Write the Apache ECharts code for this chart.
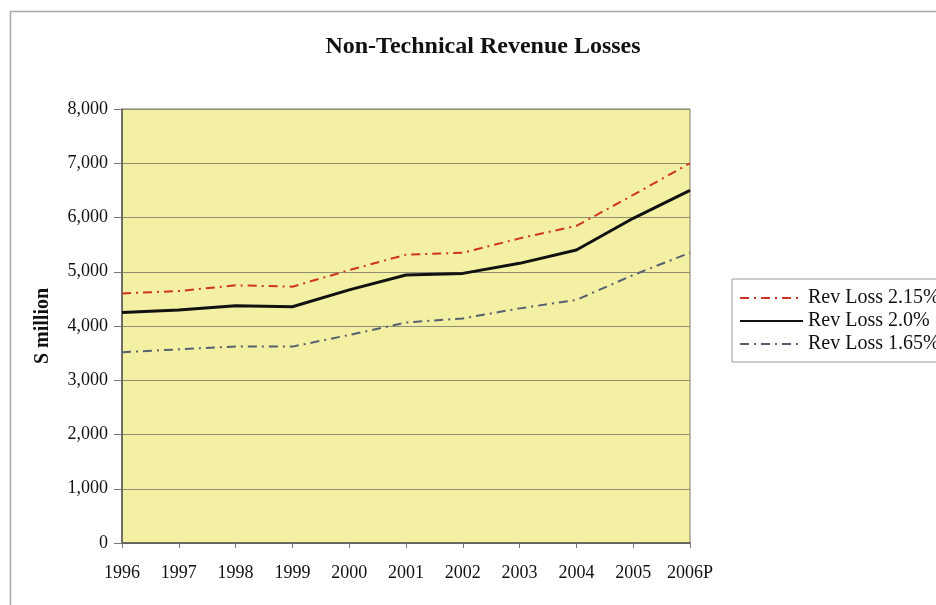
<!DOCTYPE html>
<html>
<head>
<meta charset="utf-8">
<script src="https://cdn.jsdelivr.net/npm/echarts@6/dist/echarts.min.js"></script>
<style>
  html, body { margin: 0; padding: 0; background: #ffffff; }
  #chart { width: 936px; height: 605px; }
</style>
</head>
<body>
<div id="chart"></div>
<script>
// Years on the category axis (2006 is a projection)
const years = ['1996', '1997', '1998', '1999', '2000', '2001', '2002', '2003', '2004', '2005', '2006P'];

// Non-technical revenue losses, $ million, under three loss-rate assumptions
const revLoss215 = [4600, 4645, 4750, 4725, 5030, 5315, 5350, 5615, 5845, 6415, 7000];
const revLoss200 = [4250, 4295, 4375, 4355, 4665, 4940, 4970, 5155, 5400, 5985, 6500];
const revLoss165 = [3515, 3570, 3620, 3620, 3835, 4065, 4140, 4325, 4480, 4940, 5350];

const seriesNames = ['Rev Loss 2.15%', 'Rev Loss 2.0%', 'Rev Loss 1.65%'];

const serif = '"Liberation Serif", "DejaVu Serif", serif';
const dashDot = [9, 5, 2, 5];

const chart = echarts.init(document.getElementById('chart'));

chart.setOption({
  backgroundColor: '#ffffff',
  animation: false,
  graphic: [{
    type: 'rect',
    left: 8, top: 9,
    shape: { width: 960, height: 620 },
    style: { fill: 'none', stroke: '#a8a8a8', lineWidth: 1.5 },
    silent: true,
    z: -1
  }],
  title: {
    text: 'Non-Technical Revenue Losses',
    left: 478, top: 30,
    textAlign: 'center',
    textStyle: { fontFamily: serif, fontWeight: 'bold', fontSize: 24, color: '#111' }
  },
  legend: {
    orient: 'vertical',
    left: 732, top: 279,
    padding: [9, 40, 8, 7],
    itemGap: 3,
    itemWidth: 63,
    itemHeight: 14,
    backgroundColor: '#ffffff',
    borderColor: '#9a9a9a',
    borderWidth: 1,
    borderRadius: 0,
    itemStyle: { opacity: 0 },
    data: seriesNames,
    textStyle: { fontFamily: serif, fontSize: 20, color: '#111' }
  },
  grid: {
    left: 122, right: 246, top: 109, bottom: 62,
    show: true,
    backgroundColor: '#f4f0a3',
    borderColor: '#7d7d6a',
    borderWidth: 1
  },
  xAxis: {
    type: 'category',
    data: years,
    boundaryGap: false,
    axisLine: { lineStyle: { color: '#555', width: 1.5 } },
    axisTick: { show: true, alignWithLabel: true, interval: 0, length: 5, lineStyle: { color: '#777' } },
    axisLabel: { interval: 0, fontFamily: serif, fontSize: 18, color: '#111', margin: 21 },
    splitLine: { show: false }
  },
  yAxis: {
    type: 'value',
    min: 0, max: 8000, interval: 1000,
    name: 'S million',
    nameLocation: 'middle',
    nameGap: 69,
    nameTextStyle: { fontFamily: serif, fontWeight: 'bold', fontSize: 20, color: '#111' },
    axisLine: { show: true, lineStyle: { color: '#555', width: 1.5 } },
    axisTick: { show: true, length: 8, lineStyle: { color: '#777' } },
    axisLabel: {
      fontFamily: serif, fontSize: 18, color: '#111', margin: 14,
      formatter: v => v.toLocaleString('en-US')
    },
    splitLine: { show: true, lineStyle: { color: '#8f8f78', width: 1 } }
  },
  series: [
    {
      name: seriesNames[0],
      type: 'line',
      data: revLoss215,
      symbol: 'none',
      color: '#cf3322',
      lineStyle: { color: '#cf3322', width: 2, type: dashDot }
    },
    {
      name: seriesNames[1],
      type: 'line',
      data: revLoss200,
      symbol: 'none',
      color: '#111111',
      lineStyle: { color: '#111111', width: 3, type: 'solid' }
    },
    {
      name: seriesNames[2],
      type: 'line',
      data: revLoss165,
      symbol: 'none',
      color: '#566070',
      lineStyle: { color: '#566070', width: 2, type: dashDot }
    }
  ]
});
</script>
</body>
</html>
